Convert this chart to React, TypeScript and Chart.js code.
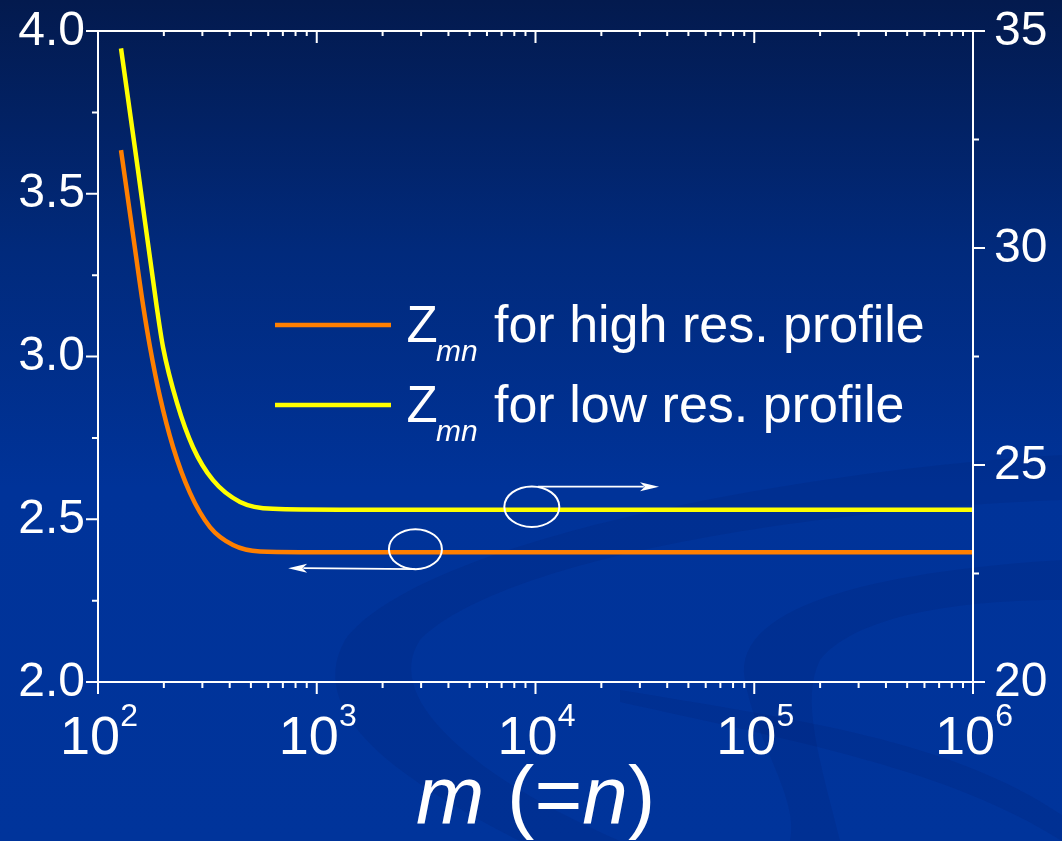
import React, { useEffect, useRef } from "react";
import { Chart, registerables } from "chart.js";

Chart.register(...registerables);

// ---- data ----
const highResM = [127.4, 145.0, 161.1, 172.9, 192.0, 220.3, 263.4, 325.1, 414.1, 550.3, 838.4, 1000000];
const highResZ = [3.634, 3.368, 3.153, 3.029, 2.876, 2.722, 2.581, 2.476, 2.421, 2.401, 2.399, 2.399];
const lowResM = [127.4, 152.3, 185.5, 198.2, 229.7, 271.8, 335.6, 445.9, 631.0, 1277, 1000000];
const lowResZ = [34.6, 31.8, 28.65, 27.72, 26.43, 25.41, 24.65, 24.15, 23.99, 23.97, 23.97];

const xTickExponents = [2, 3, 4, 5, 6];
const leftTicks = [2.0, 2.5, 3.0, 3.5, 4.0];
const leftMinorTicks = [2.25, 2.75, 3.25, 3.75];
const rightTicks = [20, 25, 30, 35];
const rightMinorTicks = [22.5, 27.5, 32.5];
const legendLabels = ["for high res. profile", "for low res. profile"];
const seriesColors = ["#ff7f00", "#ffff00"];
const markerM = [2825, 9620];
const arrowTipM = [740, 36700];

const FONT = '"Liberation Sans", Arial, sans-serif';

function arrow(ctx: CanvasRenderingContext2D, x0: number, y0: number, x1: number, y1: number) {
  const dir = Math.sign(x1 - x0);
  const headLen = 19;
  const hw = 4.5;
  ctx.beginPath();
  ctx.moveTo(x0, y0);
  ctx.lineTo(x1 - dir * headLen * 0.8, y1);
  ctx.stroke();
  ctx.beginPath();
  ctx.moveTo(x1, y1);
  ctx.lineTo(x1 - dir * headLen, y1 - hw);
  ctx.lineTo(x1 - dir * headLen * 0.75, y1);
  ctx.lineTo(x1 - dir * headLen, y1 + hw);
  ctx.closePath();
  ctx.fill();
}

const bgPlugin = {
  id: "bg",
  beforeDraw(chart: any) {
    const ctx = chart.ctx as CanvasRenderingContext2D;
    const w = chart.width;
    const h = chart.height;
    ctx.save();
    const g = ctx.createLinearGradient(0, 0, 0, h);
    g.addColorStop(0, "#031a4e");
    g.addColorStop(0.3, "#012a7c");
    g.addColorStop(0.58, "#003399");
    g.addColorStop(1, "#00349b");
    ctx.fillStyle = g;
    ctx.fillRect(0, 0, w, h);
    ctx.fillStyle = "rgba(0,20,90,0.13)";
    ctx.beginPath();
    ctx.moveTo(1062, 455);
    ctx.bezierCurveTo(800, 470, 420, 540, 345, 640);
    ctx.bezierCurveTo(300, 720, 420, 790, 520, 841);
    ctx.lineTo(620, 841);
    ctx.bezierCurveTo(480, 780, 380, 700, 420, 640);
    ctx.bezierCurveTo(500, 560, 800, 510, 1062, 500);
    ctx.closePath();
    ctx.fill();
    ctx.beginPath();
    ctx.moveTo(1062, 560);
    ctx.bezierCurveTo(900, 570, 730, 600, 745, 680);
    ctx.bezierCurveTo(755, 740, 800, 800, 790, 841);
    ctx.lineTo(840, 841);
    ctx.bezierCurveTo(820, 760, 800, 700, 820, 660);
    ctx.bezierCurveTo(860, 610, 980, 600, 1062, 600);
    ctx.closePath();
    ctx.fill();
    ctx.beginPath();
    ctx.moveTo(620, 690);
    ctx.bezierCurveTo(800, 720, 950, 740, 1062, 815);
    ctx.lineTo(1062, 841);
    ctx.bezierCurveTo(950, 770, 800, 742, 620, 702);
    ctx.closePath();
    ctx.fill();
    ctx.restore();
  },
};

const decorPlugin = {
  id: "decor",
  afterDraw(chart: any) {
    const ctx = chart.ctx as CanvasRenderingContext2D;
    const xs = chart.scales.x;
    const ys = chart.scales.y;
    const y2 = chart.scales.y2;
    const { left, right, top, bottom } = chart.chartArea;
    ctx.save();
    ctx.strokeStyle = "#ffffff";
    ctx.fillStyle = "#ffffff";
    ctx.lineWidth = 2;
    ctx.lineCap = "butt";

    // frame
    ctx.beginPath();
    ctx.rect(left, top, right - left, bottom - top);
    ctx.stroke();

    // ticks
    ctx.beginPath();
    leftTicks.forEach((v) => {
      const y = ys.getPixelForValue(v);
      ctx.moveTo(left, y);
      ctx.lineTo(left - 12, y);
    });
    leftMinorTicks.forEach((v) => {
      const y = ys.getPixelForValue(v);
      ctx.moveTo(left, y);
      ctx.lineTo(left - 6, y);
    });
    rightTicks.forEach((v) => {
      const y = y2.getPixelForValue(v);
      ctx.moveTo(right, y);
      ctx.lineTo(right + 12, y);
    });
    rightMinorTicks.forEach((v) => {
      const y = y2.getPixelForValue(v);
      ctx.moveTo(right, y);
      ctx.lineTo(right + 6, y);
    });
    xTickExponents.forEach((e, i) => {
      const x = xs.getPixelForValue(Math.pow(10, e));
      ctx.moveTo(x, bottom);
      ctx.lineTo(x, bottom + 12);
      ctx.moveTo(x, top);
      ctx.lineTo(x, top + 12);
      if (i < xTickExponents.length - 1) {
        for (let k = 2; k <= 9; k++) {
          const xm = xs.getPixelForValue(k * Math.pow(10, e));
          ctx.moveTo(xm, bottom);
          ctx.lineTo(xm, bottom + 6);
          ctx.moveTo(xm, top);
          ctx.lineTo(xm, top + 5);
        }
      }
    });
    ctx.stroke();

    // tick labels
    ctx.font = `48px ${FONT}`;
    ctx.textBaseline = "alphabetic";
    ctx.textAlign = "right";
    leftTicks.forEach((v) => {
      ctx.fillText(v.toFixed(1), left - 13, ys.getPixelForValue(v) + 13.5);
    });
    ctx.textAlign = "left";
    rightTicks.forEach((v) => {
      ctx.fillText(String(v), right + 21, y2.getPixelForValue(v) + 13.5);
    });
    xTickExponents.forEach((e) => {
      const x = xs.getPixelForValue(Math.pow(10, e));
      ctx.font = `54px ${FONT}`;
      const wBase = ctx.measureText("10").width;
      ctx.font = `32px ${FONT}`;
      const wExp = ctx.measureText(String(e)).width;
      const x0 = x + 1 - (wBase + wExp) / 2;
      ctx.font = `54px ${FONT}`;
      ctx.fillText("10", x0, 754);
      ctx.font = `32px ${FONT}`;
      ctx.fillText(String(e), x0 + wBase, 726);
    });

    // axis title: m (=n)
    let tx = 416;
    const tb = 823;
    const parts: [string, boolean][] = [["m", true], [" (=", false], ["n", true], [")", false]];
    parts.forEach(([s, it]) => {
      ctx.font = `${it ? "italic " : ""}82px ${FONT}`;
      ctx.fillText(s, tx, tb);
      tx += ctx.measureText(s).width;
    });

    // legend
    const legendY = [342, 422];
    legendLabels.forEach((lab, i) => {
      const by = legendY[i];
      ctx.strokeStyle = seriesColors[i];
      ctx.lineWidth = 4.5;
      ctx.beginPath();
      ctx.moveTo(275, by - 17);
      ctx.lineTo(391, by - 17);
      ctx.stroke();
      ctx.fillStyle = "#ffffff";
      ctx.font = `51px ${FONT}`;
      ctx.fillText("Z", 406.5, by);
      ctx.font = `italic 30px ${FONT}`;
      ctx.fillText("mn", 436, by + 19);
      ctx.font = `52px ${FONT}`;
      ctx.fillText(lab, 494, by);
    });

    // markers (ellipses + arrows)
    ctx.strokeStyle = "#ffffff";
    ctx.fillStyle = "#ffffff";
    ctx.lineWidth = 2;
    const cx1 = xs.getPixelForValue(markerM[0]);
    const cy1 = ys.getPixelForValue(highResZ[highResZ.length - 1]) - 3;
    ctx.beginPath();
    ctx.ellipse(cx1, cy1, 26.5, 20, 0, 0, Math.PI * 2);
    ctx.stroke();
    ctx.lineWidth = 1.8;
    arrow(ctx, cx1, cy1 + 20, xs.getPixelForValue(arrowTipM[0]), cy1 + 19);
    ctx.lineWidth = 2;
    const cx2 = xs.getPixelForValue(markerM[1]);
    const cy2 = y2.getPixelForValue(lowResZ[lowResZ.length - 1]) - 3;
    ctx.beginPath();
    ctx.ellipse(cx2, cy2, 27.5, 20.3, 0, 0, Math.PI * 2);
    ctx.stroke();
    ctx.lineWidth = 1.8;
    arrow(ctx, cx2 + 6, cy2 - 20, xs.getPixelForValue(arrowTipM[1]), cy2 - 20);

    ctx.restore();
  },
};

export default function App() {
  const canvasRef = useRef<HTMLCanvasElement | null>(null);

  useEffect(() => {
    const canvas = canvasRef.current;
    if (!canvas) return;
    const chart = new Chart(canvas, {
      type: "line",
      data: {
        datasets: [
          {
            label: "Z_mn for high res. profile",
            data: highResM.map((m, i) => ({ x: m, y: highResZ[i] })),
            borderColor: seriesColors[0],
            borderWidth: 4.5,
            pointRadius: 0,
            cubicInterpolationMode: "monotone",
            yAxisID: "y",
            fill: false,
          },
          {
            label: "Z_mn for low res. profile",
            data: lowResM.map((m, i) => ({ x: m, y: lowResZ[i] })),
            borderColor: seriesColors[1],
            borderWidth: 4.5,
            pointRadius: 0,
            cubicInterpolationMode: "monotone",
            yAxisID: "y2",
            fill: false,
          },
        ],
      },
      options: {
        responsive: false,
        animation: false,
        events: [],
        layout: { padding: { left: 98, top: 31, right: 89, bottom: 159 } },
        plugins: { legend: { display: false }, tooltip: { enabled: false } },
        scales: {
          x: { type: "logarithmic", min: 100, max: 1000000, display: false },
          y: { type: "linear", min: 2, max: 4, display: false, position: "left" },
          y2: { type: "linear", min: 20, max: 35, display: false, position: "right" },
        },
      } as any,
      plugins: [bgPlugin, decorPlugin],
    });
    return () => chart.destroy();
  }, []);

  return (
    <div style={{ position: "fixed", left: 0, top: 0, width: 1062, height: 841, overflow: "hidden" }}>
      <canvas ref={canvasRef} width={1062} height={841} style={{ display: "block" }} />
    </div>
  );
}
